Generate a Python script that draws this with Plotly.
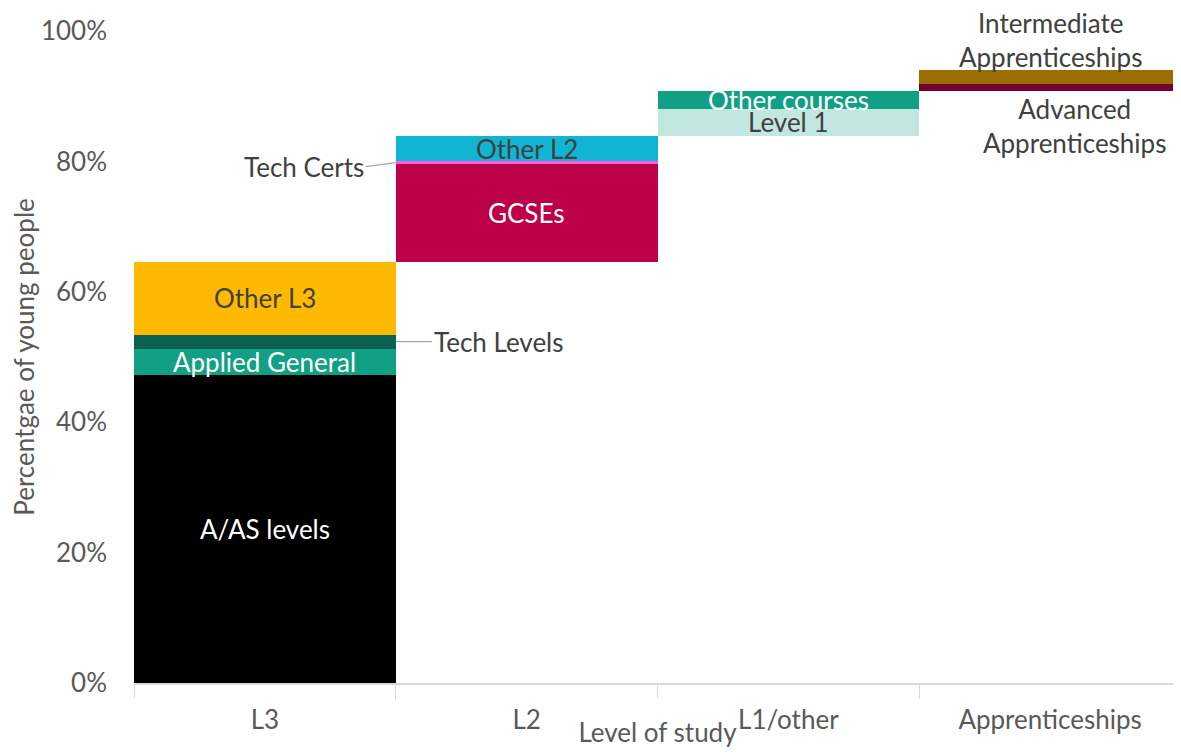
"""Waterfall-style stacked bar: level of study of young people."""

import plotly.graph_objects as go

# Categories on the x axis
levels = ["L3", "L2", "L1/other", "Apprenticeships"]

# Segments (label, level, share in %), stacked from the running total
seg_labels = [
    "A/AS levels", "Applied General", "Tech Levels", "Other L3",
    "GCSEs", "Tech Certs", "Other L2",
    "Level 1", "Other courses",
    "Advanced Apprenticeships", "Intermediate Apprenticeships",
]
seg_level = [0, 0, 0, 0, 1, 1, 1, 2, 2, 3, 3]
seg_share = [47.2, 4.1, 2.1, 11.2, 15.0, 0.4, 3.9, 4.2, 2.75, 1.0, 2.2]
seg_colors = [
    "#000000", "#12A085", "#0B6152", "#FFBA00",
    "#BC0049", "#FF5CD8", "#10B5D1",
    "#C2E7E0", "#12A085",
    "#730030", "#9A6E00",
]
# text colour of labels drawn inside the segment (None = callout label)
seg_text_color = [
    "white", "white", None, "#404040",
    "white", None, "#404040",
    "#404040", "white",
    None, None,
]

y_ticks = [0, 20, 40, 60, 80, 100]
y_ticktext = [f"{v}%" for v in y_ticks]

FONT = "Lato"
FS = 26
GREY = "#404040"
AXIS_GREY = "#595959"

bases = []
running = 0.0
for s in seg_share:
    bases.append(running)
    running += s

fig = go.Figure()
for lab, lvl, share, base, col in zip(seg_labels, seg_level, seg_share, bases, seg_colors):
    fig.add_trace(
        go.Bar(
            x=[levels[lvl]],
            y=[share],
            base=[base],
            width=[1.0],
            marker=dict(color=col, line=dict(width=0)),
            name=lab,
            hovertemplate=lab + ": %{y:.1f}%<extra></extra>",
        )
    )

# labels centred in their segment
for lab, lvl, share, base, tc in zip(seg_labels, seg_level, seg_share, bases, seg_text_color):
    if tc is None:
        continue
    fig.add_annotation(
        x=lvl, y=base + share / 2, text=lab, showarrow=False,
        font=dict(family=FONT, size=FS, color=tc),
    )

# callout labels
i = seg_labels.index("Tech Levels")
fig.add_annotation(
    x=0.5, y=bases[i] + seg_share[i] / 2, text="Tech Levels",
    showarrow=True, arrowhead=0, arrowwidth=1.2, arrowcolor="#A6A6A6",
    ax=36, ay=0, xanchor="left", standoff=0,
    font=dict(family=FONT, size=FS, color=GREY),
)
i = seg_labels.index("Tech Certs")
fig.add_annotation(
    x=0.5, y=bases[i] + seg_share[i] / 2, text="Tech Certs",
    showarrow=True, arrowhead=0, arrowwidth=1.2, arrowcolor="#A6A6A6",
    ax=-30, ay=4, xanchor="right", standoff=0,
    font=dict(family=FONT, size=FS, color=GREY),
)
i = seg_labels.index("Intermediate Apprenticeships")
fig.add_annotation(
    x=3, y=bases[i] + seg_share[i], text="Intermediate<br>Apprenticeships",
    showarrow=False, yanchor="bottom", yshift=-5,
    font=dict(family=FONT, size=FS, color=GREY),
)
i = seg_labels.index("Advanced Apprenticeships")
fig.add_annotation(
    x=3, y=bases[i], text="Advanced<br>Apprenticeships",
    showarrow=False, yanchor="top", xshift=24, yshift=0,
    font=dict(family=FONT, size=FS, color=GREY),
)

# page body adds an 8px margin, so the figure is sized to fit inside the window
fig.update_layout(
    width=1173,
    height=740,
    margin=dict(l=126, r=0, t=23, b=65),
    paper_bgcolor="white",
    plot_bgcolor="white",
    barmode="overlay",
    bargap=0,
    showlegend=False,
    font=dict(family=FONT, color=AXIS_GREY),
    xaxis=dict(
        type="category",
        categoryorder="array",
        categoryarray=levels,
        range=[-0.5, 3.5],
        tickson="boundaries",
        ticks="outside",
        ticklen=14,
        tickcolor="#D9D9D9",
        showline=True,
        linecolor="#D9D9D9",
        linewidth=1.5,
        showgrid=False,
        ticklabelstandoff=13,
        tickfont=dict(size=FS, color=AXIS_GREY),
        title=dict(text="Level of study", font=dict(size=FS, color=AXIS_GREY), standoff=0),
        automargin=False,
    ),
    yaxis=dict(
        range=[0, 100],
        tickmode="array",
        tickvals=y_ticks,
        ticktext=y_ticktext,
        showgrid=False,
        zeroline=False,
        showline=False,
        ticks="",
        ticklabelstandoff=26,
        tickfont=dict(size=FS, color=AXIS_GREY),
        title=dict(text="Percentgae of young people", font=dict(size=FS, color=AXIS_GREY), standoff=6),
        automargin=False,
    ),
)

fig.write_html("out.html")
